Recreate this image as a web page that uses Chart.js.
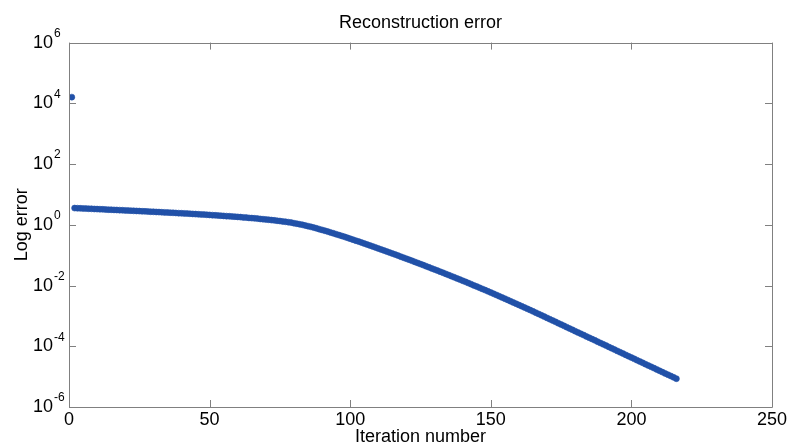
<!DOCTYPE html>
<html>
<head>
<meta charset="utf-8">
<title>Reconstruction error</title>
<script src="https://cdn.jsdelivr.net/npm/chart.js@4.4.0/dist/chart.umd.min.js"></script>
<style>
    body { margin: 0; background: #fff; }
    #chart_error { display: block; }
</style>
</head>
<body>
<canvas id="chart_error" width="791" height="448"></canvas>
<script>
// error per iteration, iteration 1 first
const errorValues = [
    1.6e4, 3.55, 3.52, 3.48, 3.45, 3.42, 3.39, 3.36, 3.32, 3.29,
    3.26, 3.23, 3.19, 3.16, 3.13, 3.10, 3.07, 3.04, 3.01, 2.98,
    2.94, 2.92, 2.88, 2.86, 2.83, 2.79, 2.77, 2.74, 2.70, 2.68,
    2.65, 2.62, 2.59, 2.56, 2.54, 2.51, 2.48, 2.45, 2.42, 2.39,
    2.37, 2.34, 2.31, 2.28, 2.25, 2.22, 2.20, 2.17, 2.14, 2.11,
    2.08, 2.05, 2.02, 1.99, 1.96, 1.93, 1.91, 1.87, 1.85, 1.82,
    1.79, 1.75, 1.73, 1.69, 1.66, 1.63, 1.60, 1.56, 1.53, 1.50,
    1.47, 1.43, 1.40, 1.36, 1.33, 1.29, 1.26, 1.22, 1.18, 1.13,
    1.09, 1.04, 0.998, 0.951, 0.904, 0.857, 0.811, 0.764, 0.719, 0.678,
    0.637, 0.597, 0.560, 0.525, 0.491, 0.459, 0.430, 0.401, 0.373, 0.348,
    0.324, 0.301, 0.281, 0.261, 0.242, 0.225, 0.209, 0.194, 0.180, 0.166,
    0.154, 0.143, 0.132, 0.122, 0.113, 0.105, 0.0968, 0.0893, 0.0826, 0.0762,
    0.0705, 0.0650, 0.0600, 0.0553, 0.0509, 0.0470, 0.0433, 0.0399, 0.0367, 0.0338,
    0.0311, 0.0286, 0.0263, 0.0242, 0.0222, 0.0204, 0.0187, 0.0172, 0.0157, 0.0144,
    0.0132, 0.0121, 0.0111, 0.0101, 0.00925, 0.00845, 0.00773, 0.00706, 0.00644, 0.00588,
    0.00536, 0.00489, 0.00445, 0.00406, 0.00369, 0.00336, 0.00305, 0.00277, 0.00252, 0.00229,
    0.00208, 0.00189, 0.00171, 0.00156, 0.00141, 0.00128, 0.00116, 0.00105, 9.48e-4, 8.59e-4,
    7.77e-4, 7.03e-4, 6.36e-4, 5.75e-4, 5.21e-4, 4.71e-4, 4.26e-4, 3.85e-4, 3.49e-4, 3.15e-4,
    2.85e-4, 2.58e-4, 2.34e-4, 2.11e-4, 1.91e-4, 1.73e-4, 1.57e-4, 1.42e-4, 1.28e-4, 1.16e-4,
    1.05e-4, 9.48e-5, 8.58e-5, 7.76e-5, 7.02e-5, 6.35e-5, 5.75e-5, 5.20e-5, 4.70e-5, 4.26e-5,
    3.85e-5, 3.48e-5, 3.15e-5, 2.85e-5, 2.58e-5, 2.33e-5, 2.11e-5, 1.91e-5, 1.73e-5, 1.56e-5,
    1.41e-5, 1.28e-5, 1.16e-5, 1.05e-5, 9.47e-6, 8.57e-6
];

const xTicks = [0, 50, 100, 150, 200, 250];
const yTicks = [1e-6, 1e-4, 1e-2, 1, 1e2, 1e4, 1e6];
const yTickExponents = ["-6", "-4", "-2", "0", "2", "4", "6"];

const axisColor = "#808080";
const markColor = "#2151a8";
const fontName = "'Liberation Sans', Arial, sans-serif";

// box around the plot, inward ticks on all four sides, "10^n" labels
const matlabAxes = {
    id: "matlabAxes",
    afterDraw(chart) {
        const c = chart.ctx;
        const area = chart.chartArea;
        const xs = chart.scales.x;
        const ys = chart.scales.y;
        const tickLen = 7;
        c.save();
        c.strokeStyle = axisColor;
        c.lineWidth = 1;
        c.beginPath();
        c.rect(Math.round(area.left) + 0.5, Math.round(area.top) + 0.5,
            Math.round(area.right - area.left), Math.round(area.bottom - area.top));
        xTicks.forEach(v => {
            const px = Math.round(xs.getPixelForValue(v)) + 0.5;
            c.moveTo(px, area.bottom);
            c.lineTo(px, area.bottom - tickLen);
            c.moveTo(px, area.top);
            c.lineTo(px, area.top + tickLen);
        });
        yTicks.forEach(v => {
            const py = Math.round(ys.getPixelForValue(v)) + 0.5;
            c.moveTo(area.left, py);
            c.lineTo(area.left + tickLen, py);
            c.moveTo(area.right, py);
            c.lineTo(area.right - tickLen, py);
        });
        c.stroke();

        c.fillStyle = "#000";
        yTicks.forEach((v, i) => {
            const py = ys.getPixelForValue(v);
            c.font = "18px " + fontName;
            c.textAlign = "right";
            c.textBaseline = "middle";
            c.fillText("10", 53, py);
            c.font = "12px " + fontName;
            c.textAlign = "left";
            c.fillText(yTickExponents[i], 54, py - 9);
        });
        c.restore();
    }
};

function generateChart() {
    const ctx = document.getElementById("chart_error");
    const points = [];
    errorValues.forEach((value, i) => {
        points.push({ x: i + 1, y: value });
    });

    new Chart(ctx, {
        type: "scatter",
        data: {
            datasets: [{
                label: "Reconstruction error",
                data: points,
                backgroundColor: markColor,
                borderColor: markColor,
                pointRadius: 3,
                pointBorderWidth: 0.6,
                showLine: false
            }]
        },
        options: {
            responsive: false,
            animation: false,
            layout: {
                padding: { left: 0, right: 19, top: 0, bottom: 0 }
            },
            plugins: {
                legend: { display: false },
                tooltip: { enabled: false },
                title: {
                    display: true,
                    text: "Reconstruction error",
                    color: "#000",
                    fullSize: false,
                    font: { family: fontName, size: 18, weight: "normal" },
                    padding: { top: 12, bottom: 9 }
                }
            },
            scales: {
                x: {
                    type: "linear",
                    min: 0,
                    max: 250,
                    grid: { display: false, drawTicks: false, tickLength: 0 },
                    border: { display: false },
                    afterBuildTicks: function(scale) {
                        scale.ticks = xTicks.map(v => ({ value: v }));
                    },
                    afterFit: function(scale) {
                        scale.height = 41;
                    },
                    ticks: {
                        color: "#000",
                        padding: 2,
                        maxRotation: 0,
                        font: { family: fontName, size: 18 }
                    },
                    title: {
                        display: true,
                        text: "Iteration number",
                        color: "#000",
                        font: { family: fontName, size: 18 },
                        padding: { top: 0, bottom: 0 }
                    }
                },
                y: {
                    type: "logarithmic",
                    min: 1e-6,
                    max: 1e6,
                    grid: { display: false, drawTicks: false, tickLength: 0 },
                    border: { display: false },
                    afterBuildTicks: function(scale) {
                        scale.ticks = yTicks.map(v => ({ value: v }));
                    },
                    afterFit: function(scale) {
                        scale.width = 69;
                    },
                    ticks: { display: false },
                    title: {
                        display: true,
                        text: "Log error",
                        color: "#000",
                        font: { family: fontName, size: 18 },
                        padding: { top: 11, bottom: 0 }
                    }
                }
            }
        },
        plugins: [matlabAxes]
    });
}

generateChart();
</script>
</body>
</html>
